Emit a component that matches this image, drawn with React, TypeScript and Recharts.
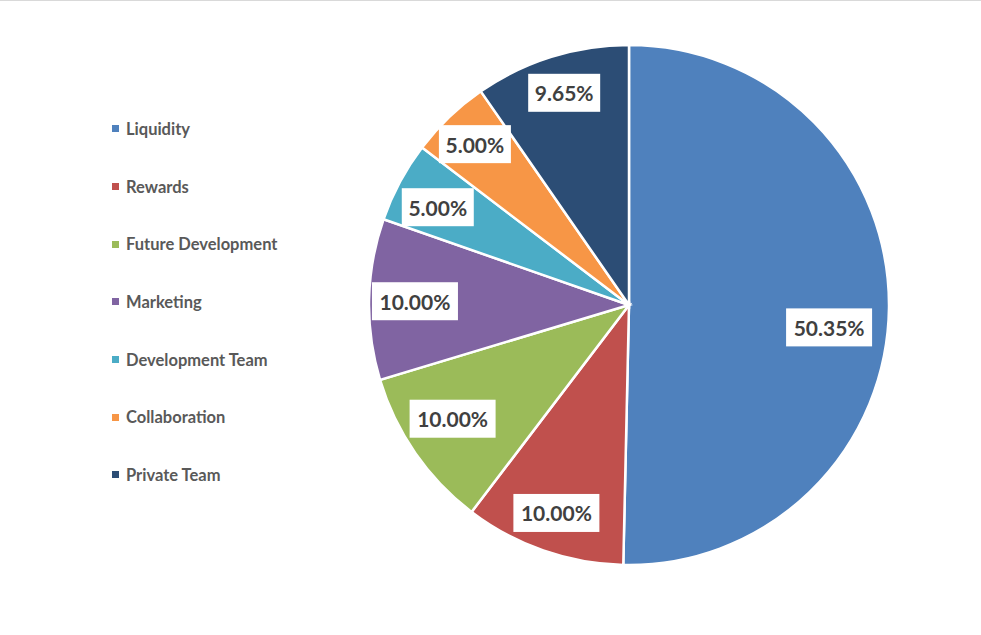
import React from 'react'
import { Cell, Legend, Pie, PieChart } from 'recharts'

const categories = [
  'Liquidity',
  'Rewards',
  'Future Development',
  'Marketing',
  'Development Team',
  'Collaboration',
  'Private Team',
]
const shares = [50.35, 10, 10, 10, 5, 5, 9.65]
const colors = ['#4F81BD', '#C0504D', '#9BBB59', '#8064A2', '#4BACC6', '#F79646', '#2C4D75']

const data = categories.map((name, i) => ({ name, value: shares[i] }))

const RADIAN = Math.PI / 180
const FONT = 'Lato, "Open Sans", sans-serif'

// small per-slice label nudges, the way excel's best-fit placed them
const nudges = [
  [-17, 20],
  [-1, 3],
  [2, -10],
  [3, 1],
  [0, 5],
  [-4, -4],
  [0, -5],
]

const renderLabel = (props: any) => {
  const { cx, cy, midAngle, outerRadius, value, index } = props
  const r = outerRadius * 0.835
  const x = cx + r * Math.cos(-midAngle * RADIAN) + nudges[index][0]
  const y = cy + r * Math.sin(-midAngle * RADIAN) + nudges[index][1]
  const text = Number(value).toFixed(2) + '%'
  const w = text.length * 14 + 2
  const h = 38
  return (
    <g>
      <rect x={x - w / 2} y={y - h / 2} width={w} height={h} fill='#ffffff' />
      <text
        x={x}
        y={y}
        textAnchor='middle'
        dominantBaseline='central'
        fill='#404040'
        fontFamily={FONT}
        fontWeight='bold'
        fontSize={21}
      >
        {text}
      </text>
    </g>
  )
}

const renderLegend = () => (
  <div style={{ fontFamily: FONT }}>
    {data.map((d, i) => (
      <div
        key={d.name}
        style={{ display: 'flex', alignItems: 'center', height: 57.7, color: '#595959', fontSize: 16.5, fontWeight: 'bold' }}
      >
        <span style={{ display: 'inline-block', width: 7, height: 7, background: colors[i], marginRight: 7 }} />
        {d.name}
      </div>
    ))}
  </div>
)

const App = () => {
  return (
    <div style={{ position: 'absolute', left: 0, top: 0, width: 981, height: 635, borderTop: '1px solid #d9d9d9', boxSizing: 'border-box' }}>
      <PieChart width={981} height={634} margin={{ top: 0, right: 0, bottom: 0, left: 0 }}>
        <Pie
          data={data}
          dataKey='value'
          nameKey='name'
          cx={629}
          cy={304}
          outerRadius={260}
          startAngle={90}
          endAngle={-270}
          stroke='#ffffff'
          strokeWidth={2.5}
          label={renderLabel}
          labelLine={false}
          isAnimationActive={false}
        >
          {data.map((d, i) => (
            <Cell key={d.name} fill={colors[i]} />
          ))}
        </Pie>
        <Legend
          content={renderLegend}
          layout='vertical'
          wrapperStyle={{ position: 'absolute', left: 112, top: 99, width: 240 }}
        />
      </PieChart>
    </div>
  )
}

export default App
